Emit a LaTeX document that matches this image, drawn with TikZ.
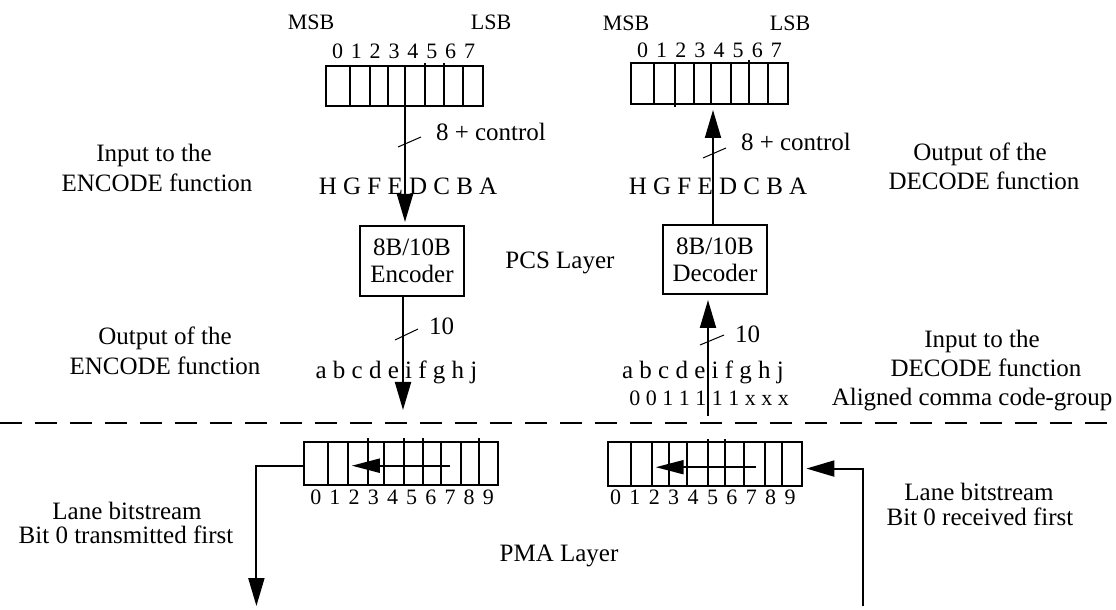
\documentclass[tikz,border=0pt]{standalone}
\usepackage{fontspec}
\setmainfont{Liberation Serif}
\usetikzlibrary{arrows.meta}
\begin{document}
\begin{tikzpicture}[x=0.5pt,y=-0.5pt,
  every node/.style={inner sep=0pt, outer sep=0pt},
  txt/.style={font=\fontsize{12.5}{15}\selectfont, anchor=base},
  small/.style={font=\fontsize{11}{13}\selectfont, anchor=base},
  ln/.style={line width=1pt},
  thinln/.style={line width=0.5pt},
  reg/.style={draw, line width=1pt, rectangle},
  blk/.style={draw, line width=1pt, align=center, font=\fontsize{12.5}{13.5}\selectfont},
  bigtip/.style={-{Triangle[length=14pt,width=8pt]}},
  innertip/.style={-{Triangle[length=14pt,width=7pt]}},
]
\useasboundingbox (0,0) rectangle (1116,610);

% ---------- registers ----------
\node[reg, minimum width=78.5pt, minimum height=20pt] (regTL) at (404.5,86) {};
\node[reg, minimum width=78.5pt, minimum height=20.5pt] (regTR) at (709.5,83.5) {};
\node[reg, minimum width=97.35pt, minimum height=21.5pt] (regBL) at (400.85,463.5) {};
\node[reg, minimum width=97.15pt, minimum height=21.75pt] (regBR) at (704.65,463.75) {};

% dividers
\foreach \x in {350,370,388,405} \draw[ln] (\x,66) -- (\x,106);
\foreach \x in {425,444} \draw[ln] (\x,63) -- (\x,106);
\draw[ln] (463,66) -- (463,106);
\foreach \x in {654,694.3,711,731,768.3} \draw[ln] (\x,63) -- (\x,104);
\draw[ln] (675,63) -- (675,107);
\draw[ln] (749.3,60) -- (749.3,104);
\foreach \x in {327.9,348.2,383.9,441,460.7} \draw[ln] (\x,442) -- (\x,485);
\foreach \x in {367.9,403.6,423.2,478.6} \draw[ln] (\x,438.5) -- (\x,485);
\foreach \x in {630.7,651.7,669.3,686.7,744,765,781.7} \draw[ln] (\x,442) -- (\x,485.5);
\foreach \x in {707.7,725} \draw[ln] (\x,439) -- (\x,485.5);

% register digits (evenly spaced)
\foreach \i in {0,...,7}
  \node[small] (tl\i) at ({337.5+18.86*\i},59) {\i};
\foreach \i in {0,...,7}
  \node[small] (tr\i) at ({642.5+19.14*\i},58) {\i};
\foreach \i in {0,...,9}
  \node[small] (bl\i) at ({315.8+19.18*\i},504) {\i};
\foreach \i in {0,...,9}
  \node[small] (br\i) at ({615.5+19.4*\i},504) {\i};

\node[small] (msbl) at (311,30) {MSB};
\node[small] (lsbl) at (491,30) {LSB};
\node[small] (msbr) at (626,31) {MSB};
\node[small] (lsbr) at (790,31) {LSB};

% ---------- coder blocks ----------
\node[blk, minimum width=52pt, minimum height=35pt] (enc) at (412,261) {8B/10B\\Encoder};
\node[blk, minimum width=52pt, minimum height=34.5pt] (dec) at (715,259.5) {8B/10B\\Decoder};

% ---------- connectors ----------
\draw[ln, bigtip, shorten >=2pt] (regTL.south -| 405,0) -- (enc.north -| 405,0);
\coordinate (encOut) at (403,410);
\draw[ln, bigtip] (enc.south -| 403,0) -- (encOut);
\draw[ln, bigtip, shorten >=3pt] (dec.north -| 713,0) -- (regTR.south -| 713,0);
\coordinate (decIn) at (708,416);
\draw[ln, bigtip, shorten >=3pt] (decIn) -- (dec.south -| 708,0);

\coordinate (blA) at (450,465.7);
\coordinate (blB) at (351.8,465.7);
\draw[ln, innertip] (blA) -- (blB);
\coordinate (brA) at (755.7,467.2);
\coordinate (brB) at (655.7,467.2);
\draw[ln, innertip] (brA) -- (brB);

\coordinate (txOut) at (256.4,606);
\draw[ln, bigtip] ([yshift=-1.1pt]regBL.west) -| (txOut);
\coordinate (rxIn) at (863,606);
\draw[ln, bigtip, shorten >=2.3pt] (rxIn) |- ([yshift=-2.4pt]regBR.east);

% bus width slashes
\draw[thinln] (398,147) -- (421,137);
\draw[thinln] (395,340) -- (418,329);
\draw[thinln] (703,158) -- (726,148);
\draw[thinln] (700,345) -- (724,335);

% layer separator
\draw[ln, dash pattern=on 11pt off 6.5pt] (0,423) -- (1116,423);

% ---------- labels ----------
\node[txt, anchor=base west] (c8l) at (436,141) {8 + control};
\node[txt, anchor=base west] (c8r) at (741,151) {8 + control};
\node[txt, anchor=base west] (t10l) at (429,335) {10};
\node[txt, anchor=base west] (t10r) at (735,343) {10};
\node[txt] (hl) at (408,195) {H G F E D C B A};
\node[txt] (hr) at (718,195) {H G F E D C B A};
\node[txt] (al) at (396.5,379) {a b c d e i f g h j};
\node[txt] (ar) at (703,379) {a b c d e i f g h j};
\node[small] (bits) at (709,406) {0 0 1 1 1 1 1 x x x};

\node[txt] (in1) at (154,162) {Input to the};
\node[txt] (in2) at (157,192) {ENCODE function};
\node[txt] (ou1) at (165,344) {Output of the};
\node[txt] (ou2) at (165,374) {ENCODE function};
\node[txt] (lb1) at (127,519) {Lane bitstream};
\node[txt] (lb2) at (126,543) {Bit 0 transmitted first};

\node[txt] (do1) at (980,161) {Output of the};
\node[txt] (do2) at (984,190) {DECODE function};
\node[txt] (di1) at (982,348) {Input to the};
\node[txt] (di2) at (986,377) {DECODE function};
\node[txt] (di3) at (972,406) {Aligned comma code-group};
\node[txt] (rb1) at (979,501) {Lane bitstream};
\node[txt] (rb2) at (980,525) {Bit 0 received first};

\node[txt] (pcs) at (560,269) {PCS Layer};
\node[txt] (pma) at (559,561) {PMA Layer};
\end{tikzpicture}
\end{document}
